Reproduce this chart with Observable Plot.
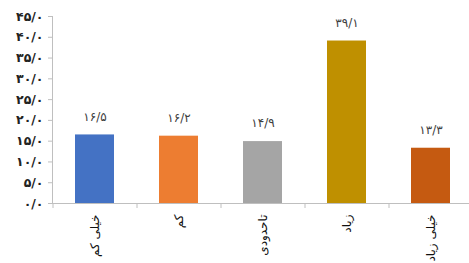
<!DOCTYPE html>
<html><head><meta charset="utf-8">
<script src="https://cdn.jsdelivr.net/npm/d3@7"></script>
<script src="https://cdn.jsdelivr.net/npm/@observablehq/plot@0.6"></script>
<style>body{margin:0;background:#fff;overflow:hidden;}</style>
</head><body><div id="chart"></div>
<script>
const categories = ["خیلی کم", "کم", "تاحدودی", "زیاد", "خیلی زیاد"];
const values = [16.5, 16.2, 14.9, 39.1, 13.3];
const colors = ["#4472C4", "#ED7D31", "#A5A5A5", "#BF9000", "#C55A11"];
const yTicks = [0, 5, 10, 15, 20, 25, 30, 35, 40, 45];

const faDigits = "۰۱۲۳۴۵۶۷۸۹";
const fa = s => s.replace(/\d/g, d => faDigits[+d]);
const fmt = v => fa(v.toFixed(1).replace(".", "/"));
const data = categories.map((c, i) => ({category: c, value: values[i]}));
const axisColor = "#bfbfbf";

const plot = Plot.plot({
  width: 469, height: 263,
  marginTop: 16, marginBottom: 60, marginLeft: 52, marginRight: 0,
  style: {fontFamily: "DejaVu Sans", background: "white", overflow: "visible"},
  x: {domain: categories, range: [52, 472], paddingInner: 0.54, paddingOuter: 0.27, axis: null},
  y: {domain: [0, 45], axis: null},
  color: {domain: categories, range: colors},
  marks: [
    Plot.barY(data, {x: "category", y: "value", fill: "category"}),
    Plot.text(data, {x: "category", y: "value", text: d => fmt(d.value), dy: -18, fontSize: 12, fill: "#404040"}),
    Plot.ruleY([0], {stroke: axisColor}),
    Plot.frame({anchor: "left", stroke: axisColor}),
    Plot.ruleX(categories, {x: d => d, y1: 0, y2: -1.2, dx: -42, stroke: axisColor}),
    Plot.axisY({ticks: yTicks, tickFormat: fmt, tickSize: 4, tickPadding: 5, fontSize: 12.5, fontWeight: "bold", stroke: axisColor, fill: "#222", label: null}),
    Plot.axisX({tickRotate: -90, tickSize: 0, tickPadding: 11, fontSize: 12, fill: "#111", label: null})
  ]
});
document.getElementById("chart").appendChild(plot);
</script>
</body></html>
